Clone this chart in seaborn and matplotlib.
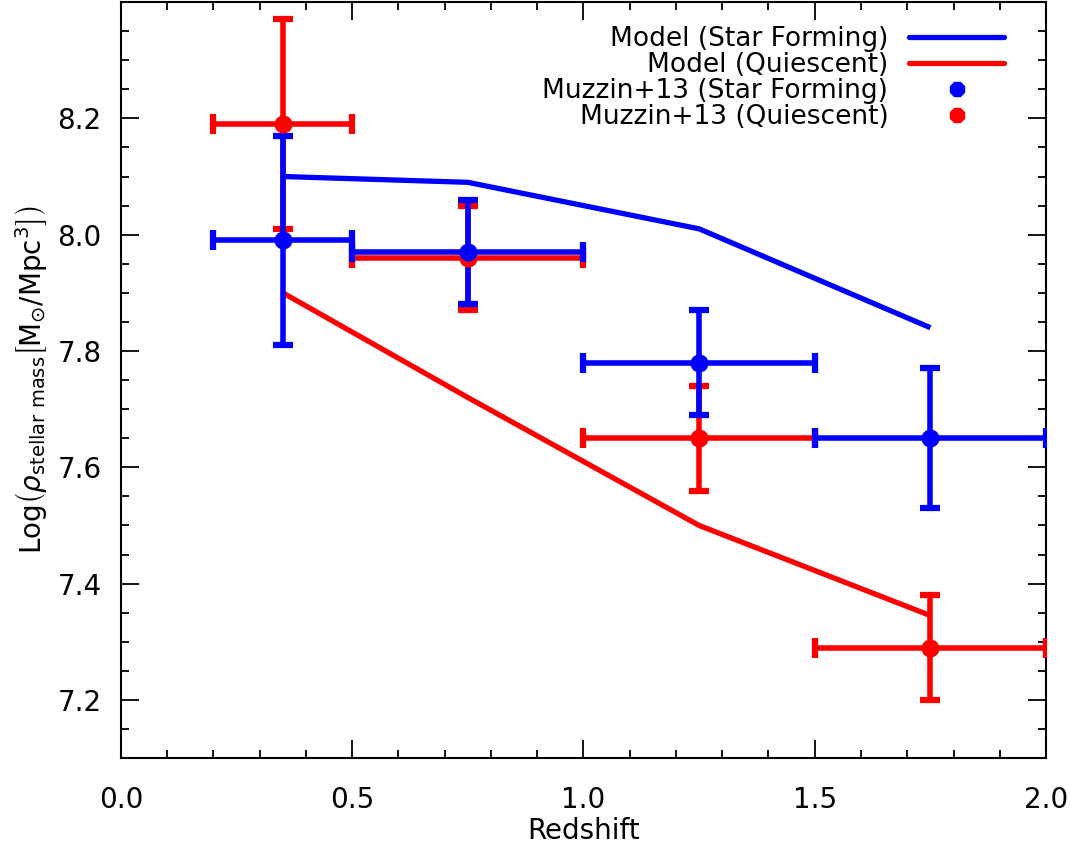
import numpy as np
import pandas as pd
import matplotlib
matplotlib.use('Agg')
import matplotlib.pyplot as plt
from matplotlib.lines import Line2D
from matplotlib.ticker import MultipleLocator
import seaborn as sns

# ---------------------------------------------------
# DATOS
# ---------------------------------------------------
model_z = [0.35, 0.75, 1.25, 1.75]
model_sf = [8.10, 8.09, 8.01, 7.84]
model_q = [7.90, 7.72, 7.50, 7.345]

obs_z = [0.35, 0.75, 1.25, 1.75]
obs_zlo = [0.2, 0.5, 1.0, 1.5]
obs_zhi = [0.5, 1.0, 1.5, 2.0]
obs_sf = [7.99, 7.97, 7.78, 7.65]
obs_sf_err = [0.18, 0.09, 0.09, 0.12]
obs_q = [8.19, 7.96, 7.65, 7.29]
obs_q_err = [0.18, 0.09, 0.09, 0.09]

x_ticks = [0.0, 0.5, 1.0, 1.5, 2.0]
y_ticks = [7.2, 7.4, 7.6, 7.8, 8.0, 8.2]

labels = ['Model (Star Forming)', 'Model (Quiescent)',
          'Muzzin+13 (Star Forming)', 'Muzzin+13 (Quiescent)']
BLUE = '#0000ff'
RED = '#ff0000'
# ---------------------------------------------------

sns.set_style('ticks')
plt.rcParams['font.family'] = ['DejaVu Sans']
plt.rcParams['mathtext.fontset'] = 'dejavusans'
for k in ['text.color', 'axes.labelcolor', 'xtick.color', 'ytick.color']:
    plt.rcParams[k] = 'black'

fig = plt.figure(figsize=(10.7, 8.47), dpi=100)
ax = fig.add_axes([0.113, 0.105, 0.8646, 0.8926])

model_df = pd.DataFrame({
    'z': model_z * 2,
    'rho': model_sf + model_q,
    'tipo': ['sf'] * 4 + ['q'] * 4,
})
sns.lineplot(data=model_df, x='z', y='rho', hue='tipo', palette={'sf': BLUE, 'q': RED},
             linewidth=3.8, legend=False, ax=ax, solid_capstyle='butt')


def draw_obs(y, yerr, color):
    z = np.array(obs_z)
    xerr = [z - np.array(obs_zlo), np.array(obs_zhi) - z]
    ax.errorbar(z, y, xerr=xerr, yerr=yerr, fmt='none', ecolor=color,
                elinewidth=4.0, capsize=7, capthick=4.5, zorder=3)
    sns.scatterplot(x=z, y=y, color=color, s=170, marker='o', edgecolor=color,
                    linewidth=0, ax=ax, zorder=4)


draw_obs(obs_q, obs_q_err, RED)
draw_obs(obs_sf, obs_sf_err, BLUE)

ax.set_xlim(0.0, 2.0)
ax.set_ylim(7.1, 8.4)
ax.set_xticks(x_ticks)
ax.set_yticks(y_ticks)
ax.xaxis.set_minor_locator(MultipleLocator(0.1))
ax.yaxis.set_minor_locator(MultipleLocator(0.05))
ax.tick_params(which='both', direction='in', top=True, right=True, labelsize=20,
               width=1.3)
ax.tick_params(which='major', length=13, pad=14)
ax.tick_params(axis='x', which='major', pad=20)
ax.tick_params(which='minor', length=6)
ax.set_xticklabels([f'{v:.1f}' for v in x_ticks])
ax.set_yticklabels([f'{v:.1f}' for v in y_ticks])
for sp in ax.spines.values():
    sp.set_linewidth(1.5)
    sp.set_color('black')

ax.set_xlabel('Redshift', fontsize=20, labelpad=2)
ax.set_ylabel(r'Log$\left(\rho_{\rm stellar\ mass}\left[\rm M_{\odot}/Mpc^{3}\right]\right)$',
              fontsize=20, labelpad=6)

handles = [
    Line2D([], [], color=BLUE, lw=3.8),
    Line2D([], [], color=RED, lw=3.8),
    Line2D([], [], color=BLUE, lw=0, marker='8', markersize=11),
    Line2D([], [], color=RED, lw=0, marker='8', markersize=11),
]
ax.legend(handles, labels, loc='upper right', bbox_to_anchor=(0.955, 0.968),
          frameon=False, markerfirst=False, fontsize=19, handlelength=3.6,
          handletextpad=0.8, labelspacing=0.0, borderpad=0, borderaxespad=0)

fig.savefig('out.png', dpi=100)
